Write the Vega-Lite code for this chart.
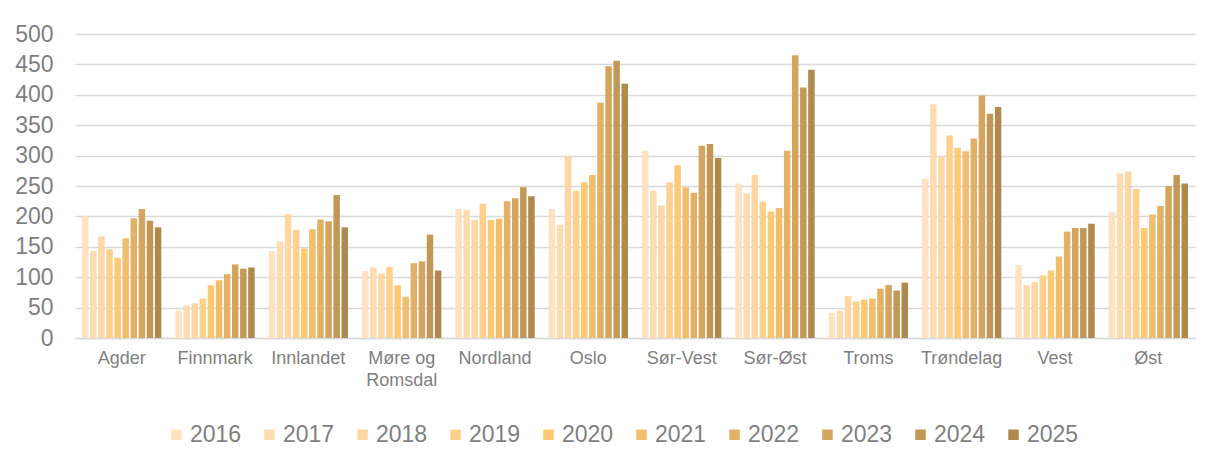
{
  "$schema": "https://vega.github.io/schema/vega-lite/v6.json",
  "width": 1120,
  "height": 304,
  "autosize": "none",
  "padding": {"left": 75, "top": 34, "right": 13, "bottom": 128},
  "background": "white",
  "config": {
    "font": "Liberation Sans",
    "view": {"stroke": null},
    "axis": {"labelColor": "#808080", "titleColor": "#808080"}
  },
  "data": {
    "values": [
      {"region": "Agder", "year": "2016", "value": 200},
      {"region": "Agder", "year": "2017", "value": 143},
      {"region": "Agder", "year": "2018", "value": 167},
      {"region": "Agder", "year": "2019", "value": 146},
      {"region": "Agder", "year": "2020", "value": 132},
      {"region": "Agder", "year": "2021", "value": 164},
      {"region": "Agder", "year": "2022", "value": 197},
      {"region": "Agder", "year": "2023", "value": 212},
      {"region": "Agder", "year": "2024", "value": 193},
      {"region": "Agder", "year": "2025", "value": 182},
      {"region": "Finnmark", "year": "2016", "value": 45},
      {"region": "Finnmark", "year": "2017", "value": 53},
      {"region": "Finnmark", "year": "2018", "value": 57},
      {"region": "Finnmark", "year": "2019", "value": 65},
      {"region": "Finnmark", "year": "2020", "value": 87},
      {"region": "Finnmark", "year": "2021", "value": 95},
      {"region": "Finnmark", "year": "2022", "value": 105},
      {"region": "Finnmark", "year": "2023", "value": 121},
      {"region": "Finnmark", "year": "2024", "value": 114},
      {"region": "Finnmark", "year": "2025", "value": 116},
      {"region": "Innlandet", "year": "2016", "value": 143},
      {"region": "Innlandet", "year": "2017", "value": 159},
      {"region": "Innlandet", "year": "2018", "value": 204},
      {"region": "Innlandet", "year": "2019", "value": 178},
      {"region": "Innlandet", "year": "2020", "value": 147},
      {"region": "Innlandet", "year": "2021", "value": 179},
      {"region": "Innlandet", "year": "2022", "value": 195},
      {"region": "Innlandet", "year": "2023", "value": 192},
      {"region": "Innlandet", "year": "2024", "value": 235},
      {"region": "Innlandet", "year": "2025", "value": 182},
      {"region": "Møre og Romsdal", "year": "2016", "value": 110},
      {"region": "Møre og Romsdal", "year": "2017", "value": 116},
      {"region": "Møre og Romsdal", "year": "2018", "value": 106},
      {"region": "Møre og Romsdal", "year": "2019", "value": 117},
      {"region": "Møre og Romsdal", "year": "2020", "value": 87},
      {"region": "Møre og Romsdal", "year": "2021", "value": 68},
      {"region": "Møre og Romsdal", "year": "2022", "value": 123},
      {"region": "Møre og Romsdal", "year": "2023", "value": 126},
      {"region": "Møre og Romsdal", "year": "2024", "value": 170},
      {"region": "Møre og Romsdal", "year": "2025", "value": 111},
      {"region": "Nordland", "year": "2016", "value": 212},
      {"region": "Nordland", "year": "2017", "value": 211},
      {"region": "Nordland", "year": "2018", "value": 194},
      {"region": "Nordland", "year": "2019", "value": 221},
      {"region": "Nordland", "year": "2020", "value": 194},
      {"region": "Nordland", "year": "2021", "value": 196},
      {"region": "Nordland", "year": "2022", "value": 225},
      {"region": "Nordland", "year": "2023", "value": 230},
      {"region": "Nordland", "year": "2024", "value": 248},
      {"region": "Nordland", "year": "2025", "value": 233},
      {"region": "Oslo", "year": "2016", "value": 212},
      {"region": "Oslo", "year": "2017", "value": 186},
      {"region": "Oslo", "year": "2018", "value": 299},
      {"region": "Oslo", "year": "2019", "value": 242},
      {"region": "Oslo", "year": "2020", "value": 256},
      {"region": "Oslo", "year": "2021", "value": 268},
      {"region": "Oslo", "year": "2022", "value": 387},
      {"region": "Oslo", "year": "2023", "value": 447},
      {"region": "Oslo", "year": "2024", "value": 456},
      {"region": "Oslo", "year": "2025", "value": 418},
      {"region": "Sør-Vest", "year": "2016", "value": 308},
      {"region": "Sør-Vest", "year": "2017", "value": 242},
      {"region": "Sør-Vest", "year": "2018", "value": 218},
      {"region": "Sør-Vest", "year": "2019", "value": 256},
      {"region": "Sør-Vest", "year": "2020", "value": 284},
      {"region": "Sør-Vest", "year": "2021", "value": 248},
      {"region": "Sør-Vest", "year": "2022", "value": 239},
      {"region": "Sør-Vest", "year": "2023", "value": 316},
      {"region": "Sør-Vest", "year": "2024", "value": 319},
      {"region": "Sør-Vest", "year": "2025", "value": 296},
      {"region": "Sør-Øst", "year": "2016", "value": 254},
      {"region": "Sør-Øst", "year": "2017", "value": 238},
      {"region": "Sør-Øst", "year": "2018", "value": 268},
      {"region": "Sør-Øst", "year": "2019", "value": 224},
      {"region": "Sør-Øst", "year": "2020", "value": 208},
      {"region": "Sør-Øst", "year": "2021", "value": 214},
      {"region": "Sør-Øst", "year": "2022", "value": 308},
      {"region": "Sør-Øst", "year": "2023", "value": 465},
      {"region": "Sør-Øst", "year": "2024", "value": 412},
      {"region": "Sør-Øst", "year": "2025", "value": 441},
      {"region": "Troms", "year": "2016", "value": 41},
      {"region": "Troms", "year": "2017", "value": 45},
      {"region": "Troms", "year": "2018", "value": 69},
      {"region": "Troms", "year": "2019", "value": 60},
      {"region": "Troms", "year": "2020", "value": 63},
      {"region": "Troms", "year": "2021", "value": 65},
      {"region": "Troms", "year": "2022", "value": 81},
      {"region": "Troms", "year": "2023", "value": 87},
      {"region": "Troms", "year": "2024", "value": 78},
      {"region": "Troms", "year": "2025", "value": 91},
      {"region": "Trøndelag", "year": "2016", "value": 262},
      {"region": "Trøndelag", "year": "2017", "value": 384},
      {"region": "Trøndelag", "year": "2018", "value": 298},
      {"region": "Trøndelag", "year": "2019", "value": 333},
      {"region": "Trøndelag", "year": "2020", "value": 313},
      {"region": "Trøndelag", "year": "2021", "value": 307},
      {"region": "Trøndelag", "year": "2022", "value": 328},
      {"region": "Trøndelag", "year": "2023", "value": 399},
      {"region": "Trøndelag", "year": "2024", "value": 369},
      {"region": "Trøndelag", "year": "2025", "value": 380},
      {"region": "Vest", "year": "2016", "value": 120},
      {"region": "Vest", "year": "2017", "value": 87},
      {"region": "Vest", "year": "2018", "value": 92},
      {"region": "Vest", "year": "2019", "value": 103},
      {"region": "Vest", "year": "2020", "value": 111},
      {"region": "Vest", "year": "2021", "value": 134},
      {"region": "Vest", "year": "2022", "value": 175},
      {"region": "Vest", "year": "2023", "value": 181},
      {"region": "Vest", "year": "2024", "value": 181},
      {"region": "Vest", "year": "2025", "value": 188},
      {"region": "Øst", "year": "2016", "value": 207},
      {"region": "Øst", "year": "2017", "value": 271},
      {"region": "Øst", "year": "2018", "value": 274},
      {"region": "Øst", "year": "2019", "value": 245},
      {"region": "Øst", "year": "2020", "value": 181},
      {"region": "Øst", "year": "2021", "value": 203},
      {"region": "Øst", "year": "2022", "value": 217},
      {"region": "Øst", "year": "2023", "value": 250},
      {"region": "Øst", "year": "2024", "value": 268},
      {"region": "Øst", "year": "2025", "value": 254}
    ]
  },
  "mark": {"type": "bar"},
  "encoding": {
    "x": {
      "field": "region",
      "type": "nominal",
      "sort": null,
      "title": null,
      "scale": {"paddingInner": 0.15, "paddingOuter": 0.075},
      "axis": {
        "labelAngle": 0,
        "labelFontSize": 18,
        "labelPadding": 11,
        "labelColor": "#7f7f7f",
        "ticks": false,
        "domainColor": "#d9d9d9",
        "domainWidth": 1.5,
        "labelLineHeight": 22,
        "labelExpr": "datum.label == 'Møre og Romsdal' ? ['Møre og', 'Romsdal'] : datum.label"
      }
    },
    "xOffset": {
      "field": "year",
      "type": "nominal",
      "scale": {"paddingInner": 0.2}
    },
    "y": {
      "field": "value",
      "type": "quantitative",
      "title": null,
      "scale": {"domain": [0, 500], "nice": false},
      "axis": {
        "values": [0, 50, 100, 150, 200, 250, 300, 350, 400, 450, 500],
        "labelFontSize": 23,
        "labelColor": "#7f7f7f",
        "labelPadding": 22,
        "ticks": false,
        "domain": false,
        "gridColor": "#d9d9d9",
        "gridWidth": 1.5
      }
    },
    "color": {
      "field": "year",
      "type": "nominal",
      "title": null,
      "scale": {
        "domain": ["2016", "2017", "2018", "2019", "2020", "2021", "2022", "2023", "2024", "2025"],
        "range": ["#FEE2C2", "#FEDCB2", "#FED7A4", "#FED08D", "#FEC975", "#F1BE6E", "#E3B166", "#D5A55E", "#C39856", "#B0894E"]
      },
      "legend": {
        "orient": "none",
        "direction": "horizontal",
        "legendX": 90,
        "legendY": 389,
        "symbolType": "square",
        "symbolSize": 110,
        "symbolStrokeWidth": 0,
        "labelFontSize": 23,
        "labelColor": "#7f7f7f",
        "labelOffset": 2,
        "columnPadding": 16
      }
    }
  }
}
